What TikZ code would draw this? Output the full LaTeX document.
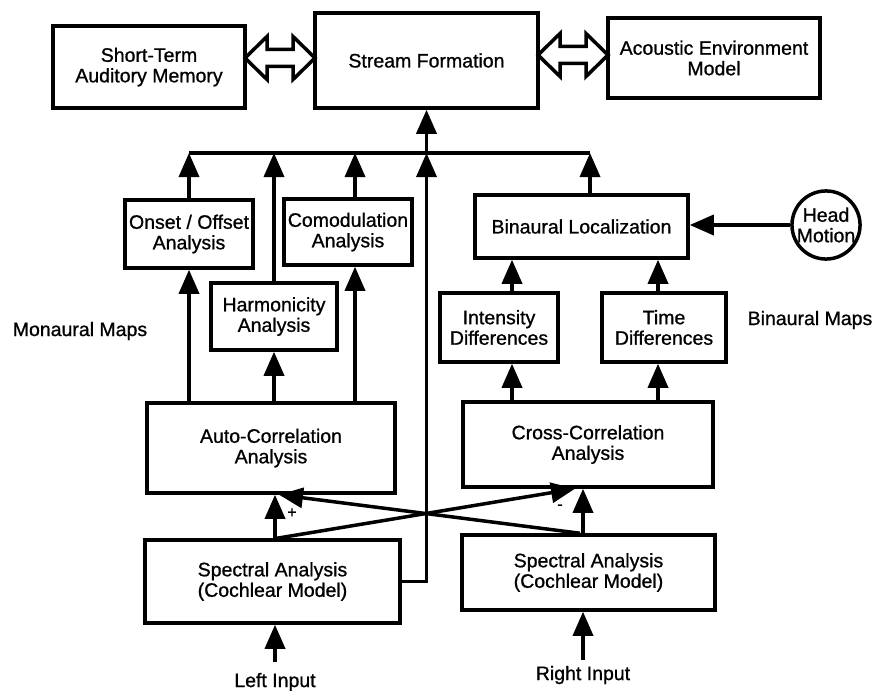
\documentclass[tikz,border=0pt]{standalone}
\usepackage{fontspec}
\setmainfont{Liberation Sans}[BoldFont={Liberation Sans},BoldFeatures={FakeBold=0.9}]
\usetikzlibrary{arrows.meta,calc}
\newcommand\hollowdbl[2]{%
  \draw[line width=3.5pt,line join=miter,fill=white] (#1,#2) -- ++(22,-21.5) -- ++(0,13) -- ++(26,0) -- ++(0,-13) -- ++(22,21.5) -- ++(-22,21.5) -- ++(0,-13) -- ++(-26,0) -- ++(0,13) -- cycle;}
\begin{document}
\begin{tikzpicture}[x=1pt,y=-1pt,
  box/.style={draw,line width=3.5pt,rectangle,inner sep=0pt,align=center,font=\fontsize{19.5}{20.5}\selectfont\bfseries},
  circ/.style={draw,line width=3.5pt,circle,inner sep=0pt,align=center,minimum size=68pt,font=\fontsize{19.5}{20.5}\selectfont\bfseries},
  lbl/.style={inner sep=0pt,align=center,font=\fontsize{19.5}{20.5}\selectfont\bfseries},
  arr/.style={line width=3.5pt,-{Triangle[length=24pt,width=20pt]}},
  ln/.style={line width=3.5pt},
]
\useasboundingbox[fill=white] (0,0) rectangle (874,690);

% top row
\node[box,minimum width=192pt,minimum height=82pt] (stm) at (149,67) {Short-Term\\Auditory Memory};
\node[box,minimum width=223pt,minimum height=95pt] (sf) at (426.5,60.5) {Stream Formation};
\node[box,minimum width=212pt,minimum height=80pt] (aem) at (714,58) {Acoustic Environment\\Model};

% monaural maps
\node[box,minimum width=128pt,minimum height=68pt] (onset) at (189,234) {Onset / Offset\\Analysis};
\node[box,minimum width=128pt,minimum height=66pt] (comod) at (348,232) {Comodulation\\Analysis};
\node[box,minimum width=126pt,minimum height=67pt] (harm) at (274,316.5) {Harmonicity\\Analysis};

% binaural maps
\node[box,minimum width=213pt,minimum height=63pt] (binloc) at (581.5,226.5) {Binaural Localization};
\node[box,minimum width=118pt,minimum height=69pt] (intens) at (499,327.5) {Intensity\\Differences};
\node[box,minimum width=124pt,minimum height=69pt] (timed) at (664,327.5) {Time\\Differences};
\node[circ] (head) at (826,225) {Head\\Motion};

% correlation
\node[box,minimum width=248pt,minimum height=90pt] (auto) at (271,448) {Auto-Correlation\\Analysis};
\node[box,minimum width=250pt,minimum height=85pt] (cross) at (588,444.5) {Cross-Correlation\\Analysis};

% spectral
\node[box,minimum width=255pt,minimum height=83pt] (specL) at (272.5,581.5) {Spectral Analysis\\(Cochlear Model)};
\node[box,minimum width=253pt,minimum height=75pt] (specR) at (588.5,572.5) {Spectral Analysis\\(Cochlear Model)};

% labels
\node[lbl] (mon) at (80,331) {Monaural Maps};
\node[lbl] (bin) at (810,320) {Binaural Maps};
\node[lbl] (lin) at (275,682) {Left Input};
\node[lbl] (rin) at (583,675) {Right Input};
\node[lbl,font=\fontsize{16}{16}\selectfont\bfseries] (plus) at (292,513) {+};
\node[lbl,font=\fontsize{16}{16}\selectfont\bfseries] (minus) at (560,507) {-};

% double hollow arrows
\hollowdbl{245}{58}
\hollowdbl{538}{55}

% bus
\coordinate (bus) at (426.5,153);
\coordinate (bl) at ([xshift=8.5pt]binloc.north);
\coordinate (cm) at ([xshift=7pt]comod.north);
\draw[ln] (onset.north |- bus) -- (bl |- bus);
\draw[arr] (onset.north) -- (onset.north |- bus);
\draw[arr] (harm.north) -- (harm.north |- bus);
\draw[arr] (cm) -- (cm |- bus);
\draw[arr] (bl) -- (bl |- bus);
\draw[arr] (specL.east) -| (bus);
\draw[arr] (bus) -- (sf.south);

% auto-correlation to monaural maps
\draw[arr] (auto.north -| onset.south) -- (onset.south);
\draw[arr] (auto.north -| harm.south) -- (harm.south);
\draw[arr] (auto.north -| cm) -- (cm |- comod.south);

% binaural
\coordinate (ia) at ([xshift=13pt]intens.north);
\coordinate (ta) at ([xshift=-6pt]timed.north);
\draw[arr] (ia) -- (ia |- binloc.south);
\draw[arr] (ta) -- (ta |- binloc.south);
\draw[arr] (cross.north -| ia) -- (ia |- intens.south);
\draw[arr] (cross.north -| ta) -- (ta |- timed.south);
\draw[arr] (head.west) -- (head.west -| binloc.east);

% spectral to correlation
\coordinate (la) at ([xshift=2.5pt]specL.north);
\coordinate (ra) at ([xshift=-5.5pt]specR.north);
\draw[arr] (la) -- (la |- auto.south);
\draw[arr] (ra) -- (ra |- cross.south);
\draw[arr] ([xshift=4.5pt]specL.north) -- ([xshift=-13pt]cross.south);
\draw[arr] ([xshift=-8.5pt]specR.north) -- ([xshift=8pt]auto.south);

% inputs
\coordinate (lt) at (275,662);
\coordinate (rt) at (583,660);
\draw[arr] (lt) -- (lt |- specL.south);
\draw[arr] (rt) -- (rt |- specR.south);
\end{tikzpicture}
\end{document}
